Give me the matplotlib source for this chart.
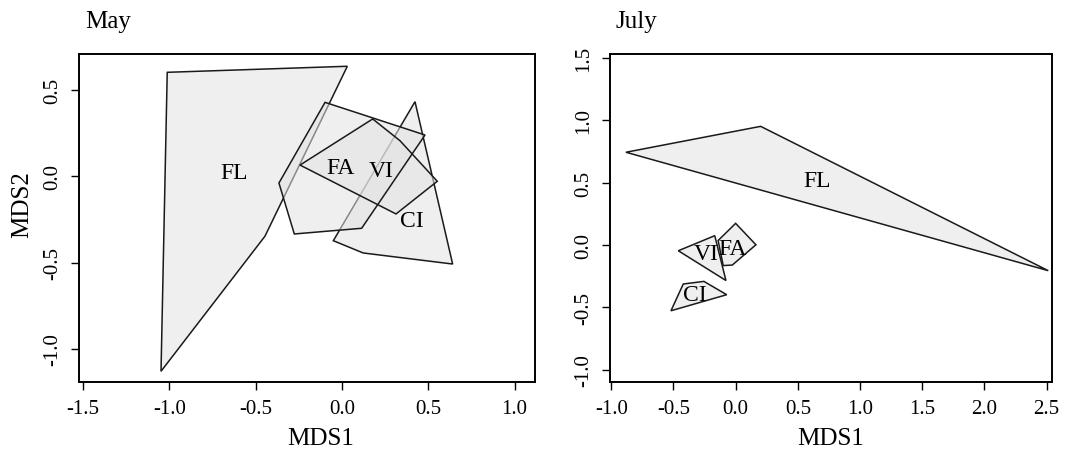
import numpy as np
import matplotlib
matplotlib.use('Agg')
import matplotlib.pyplot as plt
from matplotlib.patches import Polygon

plt.rcParams['font.family'] = ['Liberation Serif', 'DejaVu Serif']

# May hulls (MDS1, MDS2)
may_fl = [(-1.012, 0.602), (0.031, 0.637), (-0.446, -0.347), (-1.048, -1.129)]
may_ci = [(0.423, 0.432), (0.641, -0.508), (0.123, -0.444), (-0.050, -0.373)]
may_fa = [(-0.098, 0.428), (0.481, 0.239), (0.114, -0.301), (-0.276, -0.334), (-0.365, -0.039)]
may_vi = [(-0.243, 0.065), (0.178, 0.332), (0.336, 0.206), (0.552, -0.029), (0.313, -0.218)]
may_labels = {'FL': (-0.624, 0.023), 'FA': (-0.006, 0.052), 'VI': (0.23, 0.036), 'CI': (0.404, -0.257)}

# July hulls
jul_fl = [(-0.882, 0.745), (0.201, 0.953), (2.513, -0.206)]
jul_ci = [(-0.421, -0.313), (-0.255, -0.292), (-0.072, -0.399), (-0.52, -0.528)]
jul_fa = [(0.0, 0.174), (0.163, 0.002), (-0.027, -0.161), (-0.10, -0.165), (-0.141, 0.036)]
jul_vi = [(-0.461, -0.046), (-0.168, 0.075), (-0.078, -0.285)]
jul_labels = {'FL': (0.651, 0.516), 'FA': (-0.024, -0.024), 'VI': (-0.233, -0.072), 'CI': (-0.327, -0.394)}

may_xticks = [-1.5, -1.0, -0.5, 0.0, 0.5, 1.0]
may_yticks = [-1.0, -0.5, 0.0, 0.5]
jul_xticks = [-1.0, -0.5, 0.0, 0.5, 1.0, 1.5, 2.0, 2.5]
jul_yticks = [-1.0, -0.5, 0.0, 0.5, 1.0, 1.5]

FILL = '#e3e3e3'
ALPHA = 0.55
EDGE = '#1a1a1a'


def hull(ax, pts, fill=True, edge=True):
    if fill:
        ax.add_patch(Polygon(pts, closed=True, facecolor=FILL, alpha=ALPHA, edgecolor='none'))
    if edge:
        ax.add_patch(Polygon(pts, closed=True, facecolor='none', edgecolor=EDGE, lw=1.1))


def style(ax, xt, yt, xlim, ylim):
    ax.set_xlim(*xlim)
    ax.set_ylim(*ylim)
    ax.set_xticks(xt)
    ax.set_yticks(yt)
    ax.set_xticklabels(['%.1f' % v for v in xt])
    ax.set_yticklabels(['%.1f' % v for v in yt], rotation=90, va='center')
    ax.tick_params(direction='out', length=6, width=1.0, pad=6, labelsize=15)
    for s in ax.spines.values():
        s.set_linewidth(1.4)


fig = plt.figure(figsize=(10.66, 4.52), dpi=100)
ax1 = fig.add_axes([79 / 1066, 69 / 452, 456 / 1066, 328 / 452])
ax2 = fig.add_axes([610 / 1066, 69 / 452, 442 / 1066, 328 / 452])

# May
hull(ax1, may_fl)
hull(ax1, may_ci)
hull(ax1, may_fa, edge=False)
hull(ax1, may_vi, edge=False)
hull(ax1, may_fa, fill=False)
hull(ax1, may_vi, fill=False)
for k, (x, y) in may_labels.items():
    ax1.text(x, y, k, ha='center', va='center', fontsize=17)
style(ax1, may_xticks, may_yticks, (-1.523, 1.118), (-1.191, 0.708))

# July
hull(ax2, jul_fl)
hull(ax2, jul_ci)
hull(ax2, jul_fa, edge=False)
hull(ax2, jul_vi, edge=False)
hull(ax2, jul_fa, fill=False)
hull(ax2, jul_vi, fill=False)
for k, (x, y) in jul_labels.items():
    ax2.text(x, y, k, ha='center', va='center', fontsize=17)
style(ax2, jul_xticks, jul_yticks, (-1.01, 2.543), (-1.10, 1.534))

# axis titles and panel titles
fig.text(321 / 1066, 1 - 445 / 452, 'MDS1', fontsize=18, ha='center', va='baseline')
fig.text(831 / 1066, 1 - 445 / 452, 'MDS1', fontsize=18, ha='center', va='baseline')
fig.text(22.5 / 1066, 1 - 205 / 452, 'MDS2', fontsize=18, ha='center', va='center', rotation=90)
fig.text(85 / 1066, 1 - 28 / 452, 'May', fontsize=18, va='baseline', ha='left')
fig.text(616 / 1066, 1 - 28 / 452, 'July', fontsize=18, va='baseline', ha='left')

fig.savefig('out.png', dpi=100)
